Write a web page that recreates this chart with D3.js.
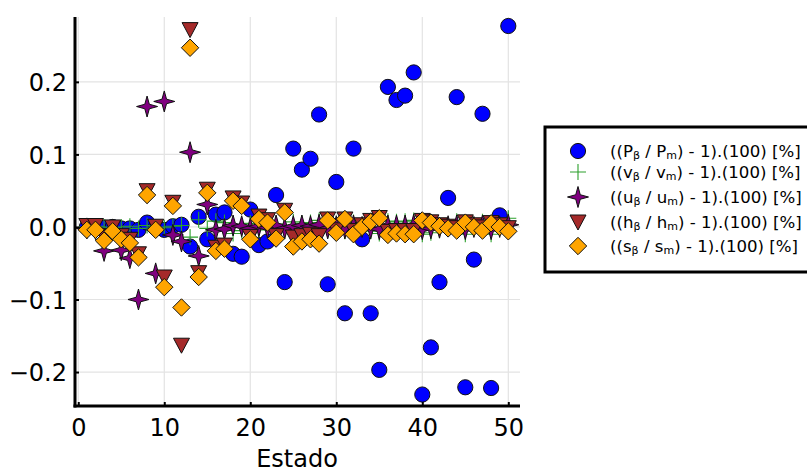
<!DOCTYPE html>
<html>
<head>
<meta charset="utf-8">
<script src="https://cdn.jsdelivr.net/npm/d3@7"></script>
<style>
  body { margin: 0; background: #fff; }
  text { font-family: "DejaVu Sans", sans-serif; }
</style>
</head>
<body>
<svg width="807" height="474"></svg>
<script>
const estado = [1,2,3,4,5,6,7,8,9,10,11,12,13,14,15,16,17,18,19,20,21,22,23,24,25,
  26,27,28,29,30,31,32,33,34,35,36,37,38,39,40,41,42,43,44,45,46,47,48,49,50];

const pVals = [0.000,0.001,-0.001,0.000,-0.002,-0.002,-0.004,0.006,-0.001,-0.004,
  0.001,0.003,-0.027,0.014,-0.017,0.017,0.020,-0.037,-0.041,0.024,
  -0.025,-0.020,0.044,-0.076,0.108,0.079,0.094,0.155,-0.079,0.062,
  -0.119,0.108,-0.017,-0.119,-0.197,0.193,0.175,0.181,0.213,-0.231,
  -0.166,-0.076,0.040,0.179,-0.221,-0.045,0.156,-0.222,0.016,0.277];

const vVals = [0.000,0.001,0.000,-0.001,0.000,0.001,-0.002,0.002,0.000,-0.001,
  0.001,0.002,-0.014,0.010,-0.002,0.008,0.006,-0.009,-0.005,0.005,
  -0.004,0.002,0.004,-0.006,0.007,0.005,0.006,0.009,-0.004,0.003,
  -0.006,0.006,-0.001,-0.006,-0.009,0.008,0.007,0.008,0.009,-0.010,
  -0.008,-0.004,0.002,0.008,-0.010,-0.002,0.007,-0.010,0.001,0.012];

const uVals = [-0.002,-0.003,-0.033,-0.004,-0.032,-0.043,-0.100,0.166,-0.064,0.173,
  -0.011,-0.020,0.103,-0.040,0.031,-0.004,-0.003,0.002,0.001,-0.002,
  0.001,-0.001,0.002,-0.002,0.001,0.002,0.001,0.003,-0.002,0.001,
  -0.002,0.002,0.000,-0.002,-0.003,0.002,0.002,0.002,0.003,-0.003,
  -0.002,-0.001,0.001,0.002,-0.003,0.000,0.002,-0.003,0.000,0.003];

const hVals = [0.002,0.002,-0.014,0.000,-0.012,-0.017,-0.037,0.050,0.001,-0.069,
  0.034,-0.163,0.272,-0.063,0.052,-0.028,-0.025,0.040,0.033,-0.013,
  0.015,0.010,-0.012,0.023,-0.014,-0.012,-0.010,-0.012,0.011,-0.004,
  0.011,-0.005,0.003,0.009,0.013,-0.006,-0.005,-0.005,-0.005,0.009,
  0.007,0.003,0.001,-0.001,0.007,0.003,0.000,0.006,0.003,-0.001];

const sVals = [-0.004,-0.004,-0.019,-0.006,-0.017,-0.022,-0.042,0.044,-0.004,-0.083,
  0.029,-0.111,0.247,-0.069,0.047,-0.033,-0.030,0.036,0.029,-0.017,
  0.011,0.006,-0.016,0.020,-0.027,-0.020,-0.017,-0.023,0.009,-0.008,
  0.011,-0.010,0.000,0.007,0.012,-0.011,-0.009,-0.010,-0.010,0.009,
  0.006,0.001,-0.002,-0.005,0.006,0.000,-0.005,0.005,0.000,-0.006];

const xTicks = [0, 10, 20, 30, 40, 50];
const yTicks = [-0.2, -0.1, 0.0, 0.1, 0.2];

const series = [
  { name: 'P', values: pVals, shape: 'circle', fill: '#0000ff' },
  { name: 'v', values: vVals, shape: 'cross', fill: '#2ca02c' },
  { name: 'u', values: uVals, shape: 'star', fill: '#800080' },
  { name: 'h', values: hVals, shape: 'dtriangle', fill: '#a52a2a' },
  { name: 's', values: sVals, shape: 'diamond', fill: '#ffa500' }
];

const svg = d3.select('svg');
const plot = { left: 75, right: 520, top: 17, bottom: 406 };

const xScale = d3.scaleLinear().domain([-0.38, 51.36]).range([plot.left, plot.right]);
const yScale = d3.scaleLinear().domain([-0.2468, 0.2894]).range([plot.bottom, plot.top]);

// grid lines
const grid = svg.append('g');
grid.selectAll('.gx').data(xTicks).enter().append('line')
  .attr('x1', d => xScale(d)).attr('x2', d => xScale(d))
  .attr('y1', plot.top).attr('y2', plot.bottom)
  .attr('stroke', '#e3e3e3').attr('stroke-width', 1.2);
grid.selectAll('.gy').data(yTicks).enter().append('line')
  .attr('x1', plot.left).attr('x2', plot.right)
  .attr('y1', d => yScale(d)).attr('y2', d => yScale(d))
  .attr('stroke', '#e3e3e3').attr('stroke-width', 1.2);

// marker shapes
const markerPath = shape => {
  if (shape === 'diamond') return 'M0,-8.7L8.7,0L0,8.7L-8.7,0Z';
  if (shape === 'dtriangle') return 'M-8,-7L8,-7L0,8Z';
  if (shape === 'star') {
    const R = 10.5, r = 3.2;
    let p = '';
    for (let i = 0; i < 8; i++) {
      const a = i * Math.PI / 4 - Math.PI / 2;
      const rad = i % 2 === 0 ? R : r;
      p += (i === 0 ? 'M' : 'L') + (rad * Math.cos(a)).toFixed(2) + ',' + (rad * Math.sin(a)).toFixed(2);
    }
    return p + 'Z';
  }
  if (shape === 'cross') return 'M-8,0L8,0M0,-8L0,8';
  return null;
};

const drawMarker = (sel, s) => {
  if (s.shape === 'circle') {
    sel.append('circle').attr('r', 7.6)
      .attr('fill', s.fill).attr('stroke', '#111').attr('stroke-width', 1);
  } else if (s.shape === 'cross') {
    sel.append('path').attr('d', markerPath('cross'))
      .attr('fill', 'none').attr('stroke', s.fill).attr('stroke-width', 1.1);
  } else {
    sel.append('path').attr('d', markerPath(s.shape))
      .attr('fill', s.fill).attr('stroke', '#111').attr('stroke-width', 1)
      .attr('stroke-linejoin', 'miter');
  }
};

const pts = svg.append('g');
series.forEach(s => {
  const g = pts.append('g');
  estado.forEach((e, i) => {
    const m = g.append('g')
      .attr('transform', `translate(${xScale(e)},${yScale(s.values[i])})`);
    drawMarker(m, s);
  });
});

// axes
const xAxis = d3.axisBottom(xScale).tickValues(xTicks).tickSize(-4).tickPadding(10)
  .tickFormat(d3.format('d'));
const yAxis = d3.axisLeft(yScale).tickValues(yTicks).tickSize(-4).tickPadding(8)
  .tickFormat(d => d3.format('.1f')(d).replace('-', '\u2212'));

const xAxisG = svg.append('g').attr('transform', `translate(0,${plot.bottom})`).call(xAxis);
const yAxisG = svg.append('g').attr('transform', `translate(${plot.left},0)`).call(yAxis);
[xAxisG, yAxisG].forEach(a => {
  a.select('.domain').remove();
  a.selectAll('.tick line').attr('stroke', '#000').attr('stroke-width', 2);
  a.selectAll('.tick text').attr('fill', '#000').style('font-size', '24px')
    .style('font-family', '"DejaVu Sans", sans-serif');
});
xAxisG.selectAll('.tick text').attr('dy', '0.85em');
yAxisG.selectAll('.tick text').attr('dy', '0.36em');

svg.append('line').attr('x1', plot.left).attr('x2', plot.left)
  .attr('y1', plot.top).attr('y2', plot.bottom + 1.5)
  .attr('stroke', '#000').attr('stroke-width', 3);
svg.append('line').attr('x1', plot.left - 1.5).attr('x2', plot.right)
  .attr('y1', plot.bottom).attr('y2', plot.bottom)
  .attr('stroke', '#000').attr('stroke-width', 3);

svg.append('text')
  .attr('x', 297).attr('y', 467)
  .attr('text-anchor', 'middle').style('font-size', '24px')
  .text('Estado');

// legend
const legend = svg.append('g');
legend.append('rect').attr('x', 545).attr('y', 127).attr('width', 280).attr('height', 145)
  .attr('fill', '#fff').attr('stroke', '#000').attr('stroke-width', 3);
const legRows = [
  ['P', 'P'], ['v', 'v'], ['u', 'u'], ['h', 'h'], ['s', 's']
];
const rowY = [151, 172, 197, 222, 246];
series.forEach((s, i) => {
  const m = legend.append('g').attr('transform', `translate(578,${rowY[i]})`);
  drawMarker(m, s);
  const t = legend.append('text').attr('x', 610).attr('y', rowY[i] + 6)
    .style('font-size', '16.6px').attr('fill', '#000');
  t.append('tspan').text('((' + legRows[i][0]);
  t.append('tspan').text('\u03b2').style('font-size', '11px').attr('dy', 2);
  t.append('tspan').text(' / ' + legRows[i][1]).attr('dy', -2);
  t.append('tspan').text('m').style('font-size', '11px').attr('dy', 2);
  t.append('tspan').text(') - 1).(100) [%]').attr('dy', -2);
});
</script>
</body>
</html>
